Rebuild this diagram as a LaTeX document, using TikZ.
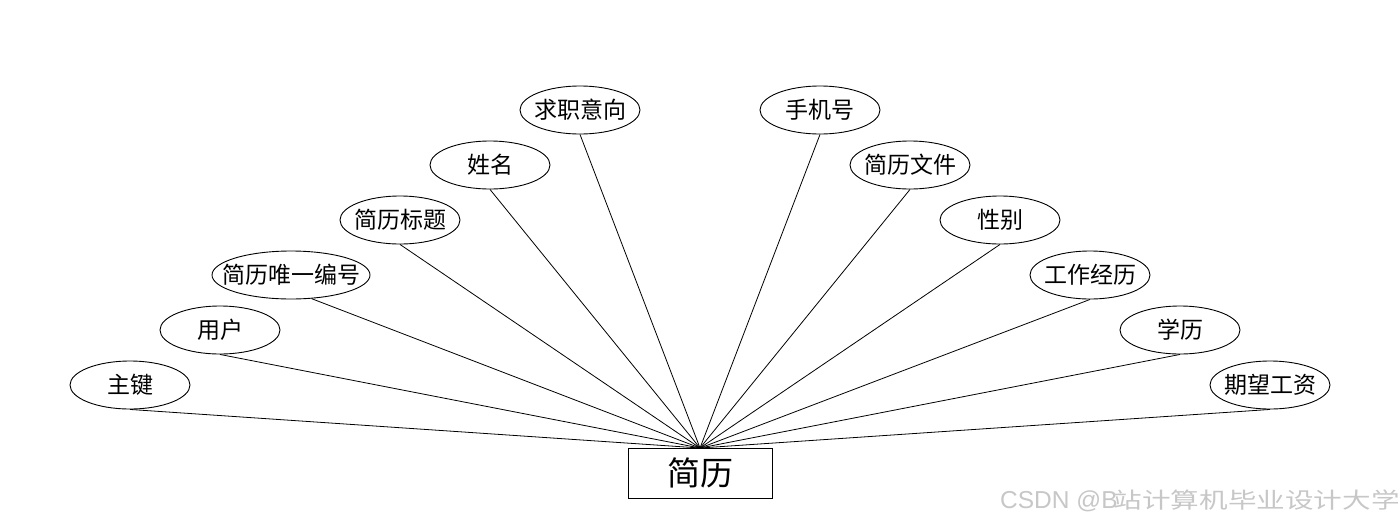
\documentclass[tikz,border=0pt]{standalone}
\usepackage{fontspec}
\setmainfont{Noto Sans CJK SC}
\newfontfamily\latinwm{Liberation Sans}
\usetikzlibrary{shapes.geometric}
\newcommand{\ctext}[1]{\makebox[0pt]{#1}}
\begin{document}
\begin{tikzpicture}[x=1pt,y=-1pt,
  attr/.style={ellipse,draw,line width=0.9pt,minimum width=120pt,minimum height=48pt,inner sep=0pt,font=\fontsize{23}{26}\selectfont},
  ent/.style={rectangle,draw,line width=0.9pt,minimum width=144pt,minimum height=50pt,inner sep=0pt,font=\fontsize{33}{36}\selectfont},
  link/.style={line width=0.8pt}]
\useasboundingbox (0,0) rectangle (1400,528);
\node[ent] (r) at (700,473) {\ctext{简历}};
\coordinate (hub) at (700,448);
\node[attr] (a1) at (130,385) {\ctext{主键}};
\node[attr] (a2) at (220,330) {\ctext{用户}};
\node[attr,minimum width=158pt] (a3) at (291,275) {\ctext{简历唯一编号}};
\node[attr] (a4) at (400,220) {\ctext{简历标题}};
\node[attr] (a5) at (490,165) {\ctext{姓名}};
\node[attr] (a6) at (580,110) {\ctext{求职意向}};
\node[attr] (b1) at (820,110) {\ctext{手机号}};
\node[attr] (b2) at (910,165) {\ctext{简历文件}};
\node[attr] (b3) at (1000,220) {\ctext{性别}};
\node[attr] (b4) at (1090,275) {\ctext{工作经历}};
\node[attr] (b5) at (1180,330) {\ctext{学历}};
\node[attr] (b6) at (1270,385) {\ctext{期望工资}};
\foreach \n in {a1,a2,a4,a5,a6,b1,b2,b3,b4,b5,b6}
  \draw[link] (\n.south) -- (hub);
\draw[link] (a3.-49) -- (hub);
\node[anchor=west,text=black!22,inner sep=0pt] (wm) at (1000,501) {{\latinwm\fontsize{24.5}{26}\selectfont CSDN @B}\kern-4pt\scalebox{1.3}[1]{\fontsize{22}{26}\selectfont 站计算机毕业设计大学}};
\end{tikzpicture}
\end{document}
